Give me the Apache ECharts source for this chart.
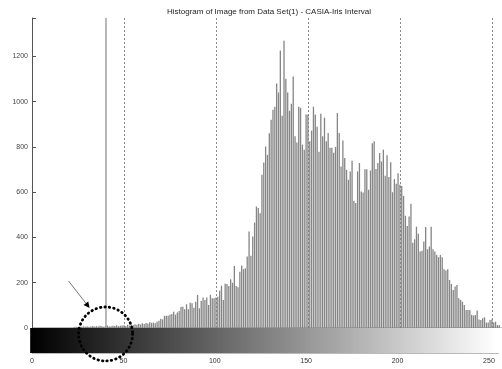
<!DOCTYPE html>
<html>
<head>
<meta charset="utf-8">
<script src="https://cdn.jsdelivr.net/npm/echarts@6/dist/echarts.min.js"></script>
<style>
html, body { margin: 0; padding: 0; background: #fff; }
#main { width: 502px; height: 369px; }
</style>
</head>
<body>
<div id="main"></div>
<script>
var title = 'Histogram of Image from Data Set(1) - CASIA-Iris Interval';

// pixel counts per gray level 0..255
var countsDark = [0,0,0,0,0,0,0,0,0,0,0,0,0,0,0,0,0,0,0,0,0,0,0]; // 0-22
var countsLow = [3,5,4,6,5,7,6,8,5,7,9,6,8,7,10,8,6,9,11,7,8,10,9,12,8,10,11, // 23-49
  12,9,14,11,15,13,17,14,19,16,21,18,22,20,25,23,24]; // 50-66
var countsMid = [21,28,32,41,38,54,54,54,59,62,
  72,59,69,75,94,94,83,105,83,112,
  109,90,116,146,87,119,135,124,135,102,
  147,131,131,135,138,165,187,124,196,195,
  186,215,200,274,186,180,249,276,260,264,
  316,426,319,404,466,537,530,507,677,731,
  802,765,861,920,965,978,1080,1041,1226,938,
  1270,1102,1041,960,991,1112,847,820,978,973,
  810,788,943,943,825,872,978,943,889,779,
  947,847,930,825,862,797,797,774,800,950]; // 67-166
var countsHigh = [862,714,829,751,699,655,692,739,562,552,
  692,729,603,599,702,702,611,696,817,825,
  703,729,773,736,788,673,763,667,733,600,
  658,637,684,633,628,584,496,451,493,549,
  377,392,448,416,338,341,382,446,348,360,
  448,348,338,323,313,323,313,260,254,260,
  212,195,168,183,190,131,124,116,102,80,
  80,80,58,55,58,77,38,35,43,47,
  24,24,35,38,24,28,13,13,3]; // 167-255
var counts = countsDark.concat(countsLow, countsMid, countsHigh);

var xTicks = [0, 50, 100, 150, 200, 250];
var yTicks = [0, 200, 400, 600, 800, 1000, 1200];
var markerLevel = 40; // solid threshold line, also centre of the dotted circle

var chart = echarts.init(document.getElementById('main'));

var histData = counts.map(function (c, i) { return [i, c]; });
var barData = counts.map(function (c, i) {
  return { value: [i, 1], itemStyle: { color: 'rgb(' + i + ',' + i + ',' + i + ')' } };
});

var option = {
  animation: false,
  backgroundColor: '#fff',
  textStyle: { fontFamily: 'Liberation Sans' },
  title: {
    text: title,
    left: 162,
    top: 3,
    textStyle: { fontSize: 8, fontWeight: 'normal', color: '#222', fontFamily: 'Liberation Sans' }
  },
  grid: [
    { left: 32, top: 18, width: 470, height: 310 },
    { left: 32, top: 328, width: 470, height: 25, show: true, borderColor: '#777', borderWidth: 1 }
  ],
  xAxis: [
    {
      type: 'value', gridIndex: 0, min: 0, max: 255.5, interval: 50,
      axisLine: { show: false }, axisTick: { show: false }, axisLabel: { show: false },
      splitLine: { show: true, showMinLine: false, showMaxLine: false,
        lineStyle: { color: '#8a8a8a', type: [2, 2], width: 1 } }
    },
    {
      type: 'value', gridIndex: 1, min: 0, max: 255.5, interval: 50, position: 'bottom',
      axisLine: { show: false },
      axisTick: { show: true, inside: true, length: 3, lineStyle: { color: '#333' } },
      axisLabel: { fontSize: 7, color: '#333', margin: 5,
        formatter: function (v) { return xTicks.indexOf(v) >= 0 ? String(v) : ''; } },
      splitLine: { show: false }
    }
  ],
  yAxis: [
    {
      type: 'value', gridIndex: 0, min: 0, max: 1370, interval: 200,
      axisLine: { show: true, lineStyle: { color: '#555', width: 1 } },
      axisTick: { show: true, inside: true, length: 4, lineStyle: { color: '#555' } },
      axisLabel: { fontSize: 7, color: '#444', margin: 4,
        formatter: function (v) { return yTicks.indexOf(v) >= 0 ? String(v) : ''; } },
      splitLine: { show: false }
    },
    {
      type: 'value', gridIndex: 1, min: 0, max: 1, show: false
    }
  ],
  series: [
    {
      type: 'bar', xAxisIndex: 0, yAxisIndex: 0,
      data: histData, barWidth: 1.3, silent: true,
      itemStyle: { color: '#858585' },
      markLine: {
        silent: true, symbol: 'none', label: { show: false },
        lineStyle: { color: '#a0a0a0', type: 'solid', width: 1.5 },
        data: [{ xAxis: markerLevel }]
      }
    },
    {
      type: 'bar', xAxisIndex: 1, yAxisIndex: 1,
      data: barData, barWidth: 4, silent: true
    }
  ]
};
chart.setOption(option);

// arrow and dotted circle pointing at the dark-level region
var c = chart.convertToPixel({ gridIndex: 0 }, [markerLevel, 0]);
var cx = c[0], cy = c[1] + 6;
var start = [cx - 37, c[1] - 47];
var tip = [cx - 16, c[1] - 20];
var dx = tip[0] - start[0], dy = tip[1] - start[1];
var len = Math.sqrt(dx * dx + dy * dy);
var ux = dx / len, uy = dy / len;
var bx = tip[0] - 6 * ux, by = tip[1] - 6 * uy;

chart.setOption({
  graphic: [
    {
      type: 'circle', z: 100,
      shape: { cx: cx, cy: cy, r: 27 },
      style: { fill: 'none', stroke: '#000', lineWidth: 2.8, lineDash: [0.5, 4], lineCap: 'round' }
    },
    {
      type: 'line', z: 100,
      shape: { x1: start[0], y1: start[1], x2: bx, y2: by },
      style: { stroke: '#777', lineWidth: 1 }
    },
    {
      type: 'polygon', z: 100,
      shape: { points: [tip, [bx - 3 * uy, by + 3 * ux], [bx + 3 * uy, by - 3 * ux]] },
      style: { fill: '#000' }
    }
  ]
});
</script>
</body>
</html>
